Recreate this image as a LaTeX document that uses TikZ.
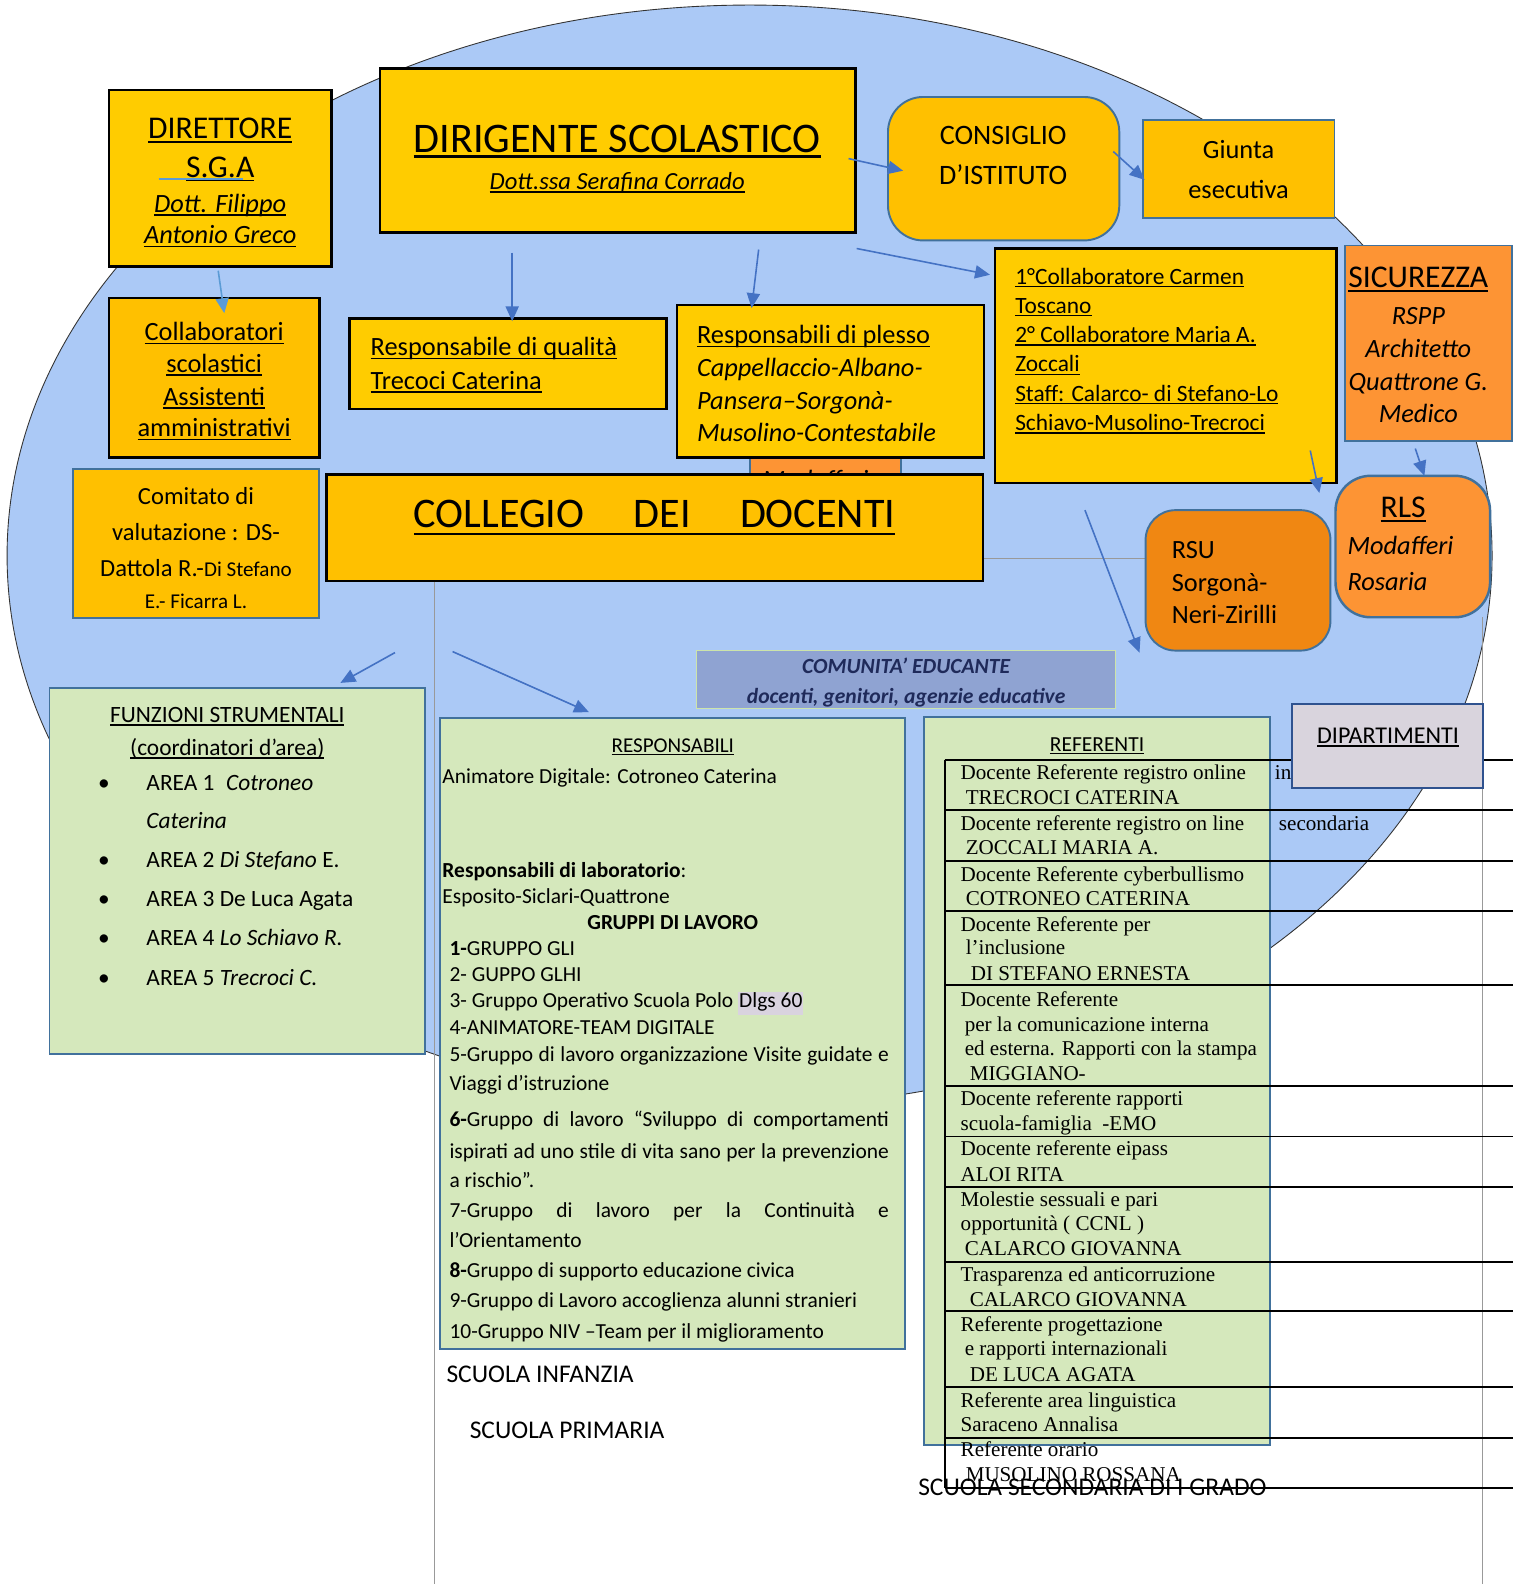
\documentclass[tikz,border=0pt]{standalone}
\usepackage{fontspec}
\setmainfont{Carlito}
\newfontfamily\tnr{Liberation Serif}
\usetikzlibrary{fit,arrows.meta}
\definecolor{ellblue}{RGB}{171,201,246}
\definecolor{yelA}{RGB}{255,204,0}
\definecolor{yelB}{RGB}{255,192,0}
\definecolor{orA}{RGB}{253,148,52}
\definecolor{orB}{RGB}{240,135,18}
\definecolor{grn}{RGB}{213,232,188}
\definecolor{bgray}{RGB}{65,113,156}
\definecolor{comfill}{RGB}{143,163,210}
\definecolor{comtext}{RGB}{31,42,90}
\definecolor{dipfill}{RGB}{217,212,221}
\definecolor{dipedge}{RGB}{47,82,143}
\definecolor{arrblue}{RGB}{68,114,196}
\definecolor{lblue}{RGB}{91,155,213}
\definecolor{hl}{RGB}{217,211,223}
\newcommand\fsz[1]{\fontsize{#1}{#1}\selectfont}
\newsavebox\ulbox
\newcommand\uln[1]{\sbox\ulbox{#1}\rlap{\rule[-0.13em]{\wd\ulbox}{0.06em}}\usebox\ulbox}
\setlength\fboxsep{0.6pt}
\begin{document}
\begin{tikzpicture}[x=0.0202cm,y=-0.0202cm,
  every node/.style={inner sep=0pt, outer sep=0pt},
  ybox/.style={draw=black, line width=1.5pt, inner sep=0pt},
  gbox/.style={draw=bgray, line width=1.1pt, inner sep=0pt},
  arr/.style={draw=arrblue, line width=0.9pt, -{Triangle[length=8.5pt,width=7.5pt]}},
  tline/.style={draw=black, line width=1.1pt},
  thinl/.style={draw=black!40, line width=0.5pt},
  sA/.style={yshift=-4.8pt},
  sB/.style={yshift=-3.7pt},
  sC/.style={yshift=-3.2pt},
  sD/.style={yshift=-3pt},
  sE/.style={yshift=-2.6pt},
  sF/.style={yshift=-2.3pt},
  sG/.style={yshift=-2pt},
  reft/.style={anchor=mid west, font=\tnr\fsz{12}, yshift=-1.7pt},
  rtx/.style={anchor=mid west, font=\fsz{12.2}, sG},
  ftx/.style={anchor=mid west, font=\fsz{13.3}, sF}
]
\fill[white] (0,0) rectangle (1498,1568);
\useasboundingbox (0,0) rectangle (1498,1568);

% big ellipse
\draw[fill=ellblue, draw=black!80, line width=0.5pt] (742,550) ellipse [x radius=735, y radius=545];

% thin grey lines
\draw[thinl] (430,575) -- (430,1568);
\draw[thinl] (1467,611) -- (1467,1568);
\draw[thinl] (973,553) -- (1135,553);

% DIRIGENTE
\node[ybox, fill=yelA, fit={(376,68) (847,230)}] (dir) {};
\node[anchor=mid, sA] (dirT1) at (611,138) {\fsz{24}\uln{DIRIGENTE SCOLASTICO}};
\node[anchor=mid, sE] (dirT2) at (611,179) {\fsz{14}\itshape\uln{Dott.ssa Serafina Corrado}};

% DIRETTORE
\node[ybox, fill=yelA, fit={(108,89) (328,264)}] (dsga) {};
\node[anchor=mid, sB] (dsT1) at (218,127) {\fsz{18}\uln{DIRETTORE}};
\node[anchor=mid, sB] (dsT2) at (218,165) {\fsz{18}\uln{S.G.A}};
\draw[lblue, line width=0.8pt] (157,177) -- (241,177);
\node[anchor=mid, sD] (dsT3) at (218,201) {\fsz{15}\itshape\uln{Dott. Filippo}};
\node[anchor=mid, sD] (dsT4) at (218,232) {\fsz{15}\itshape\uln{Antonio Greco}};

% CONSIGLIO
\node[gbox, fill=yelB, rounded corners=20pt, fit={(879,96) (1108,238)}] (cons) {};
\node[anchor=mid, sC] (consT1) at (993,133) {\fsz{16}CONSIGLIO};
\node[anchor=mid, sC] (consT2) at (993,173) {\fsz{16}D’ISTITUTO};

% Giunta
\node[gbox, fill=yelB, fit={(1131,119) (1321,216)}] (giu) {};
\node[anchor=mid, sD] (giuT1) at (1226,148) {\fsz{15}Giunta};
\node[anchor=mid, sD] (giuT2) at (1226,187) {\fsz{15}esecutiva};

% Collaboratori DS
\node[ybox, fill=yelA, fit={(985,246) (1323,478)}] (coll) {};
\node[anchor=mid west, sF] (collT1) at (1005,273) {\fsz{13.3}\uln{1°Collaboratore Carmen}};
\node[anchor=mid west, sF] (collT2) at (1005,302) {\fsz{13.3}\uln{Toscano}};
\node[anchor=mid west, sF] (collT3) at (1005,331) {\fsz{13.3}\uln{2° Collaboratore Maria A.}};
\node[anchor=mid west, sF] (collT4) at (1005,360) {\fsz{13.3}\uln{Zoccali}};
\node[anchor=mid west, sF] (collT5) at (1005,389) {\fsz{13.3}\uln{Staff: Calarco- di Stefano-Lo}};
\node[anchor=mid west, sF] (collT6) at (1005,418) {\fsz{13.3}\uln{Schiavo-Musolino-Trecroci}};

% SICUREZZA
\node[gbox, fill=orA, fit={(1331,243) (1497,437)}] (sic) {};
\node[anchor=mid, sB] (sicT1) at (1404,274) {\fsz{18}\uln{SICUREZZA}};
\node[anchor=mid, sD] (sicT2) at (1404,312) {\fsz{15}\itshape RSPP};
\node[anchor=mid, sD] (sicT3) at (1404,345) {\fsz{15}\itshape Architetto};
\node[anchor=mid, sD] (sicT4) at (1404,377) {\fsz{15}\itshape Quattrone G.};
\node[anchor=mid, sD] (sicT5) at (1404,409) {\fsz{15}\itshape Medico};

% Collaboratori scolastici
\node[ybox, fill=yelB, fit={(108,295) (316,453)}] (cs) {};
\node[anchor=mid, sD] (csT1) at (212,328) {\fsz{15}\uln{Collaboratori}};
\node[anchor=mid, sD] (csT2) at (212,359) {\fsz{15}\uln{scolastici}};
\node[anchor=mid, sD] (csT3) at (212,392) {\fsz{15}\uln{Assistenti}};
\node[anchor=mid, sD] (csT4) at (212,423) {\fsz{15}\uln{amministrativi}};

% Responsabile di qualita
\node[ybox, fill=yelA, fit={(346,315) (660,405)}] (rq) {};
\node[anchor=mid west, sD] (rqT1) at (367,343) {\fsz{15}\uln{Responsabile di qualità}};
\node[anchor=mid west, sD] (rqT2) at (367,376) {\fsz{15}\uln{Trecoci Caterina}};

% hidden orange box
\node[gbox, fill=orA, fit={(742,440) (892,520)}] (hid) {};
\node[anchor=mid west, sD] (hidT) at (755,474) {\fsz{15}\itshape Modafferi};

% Responsabili di plesso
\node[ybox, fill=yelA, fit={(670,302) (974,453)}] (rp) {};
\node[anchor=mid west, sD] (rpT1) at (690,331) {\fsz{15}\uln{Responsabili di plesso}};
\node[anchor=mid west, sD] (rpT2) at (690,363) {\fsz{15}\itshape Cappellaccio-Albano-};
\node[anchor=mid west, sD] (rpT3) at (690,396) {\fsz{15}\itshape Pansera–Sorgonà-};
\node[anchor=mid west, sD] (rpT4) at (690,428) {\fsz{15}\itshape Musolino-Contestabile};

% COLLEGIO
\node[ybox, fill=yelB, fit={(323,470) (973,575)}] (cdd) {};
\node[anchor=mid, sA] (cddT) at (648,510) {\fsz{24}COLLEGIO\hspace{28pt}DEI\hspace{28pt}DOCENTI};
\draw[line width=1.3pt] ([yshift=-3.6pt]cddT.base west) -- ([yshift=-3.6pt]cddT.base east);

% Comitato
\node[gbox, fill=yelB, fit={(72,464) (316,612)}] (cv) {};
\node[anchor=mid, sE] (cvT1) at (194,491) {\fsz{14}Comitato di};
\node[anchor=mid, sE] (cvT2) at (194,526) {\fsz{14}valutazione : DS-};
\node[anchor=mid, sE] (cvT3) at (194,562) {\fsz{14}Dattola R.-{\fsz{12}Di Stefano}};
\node[anchor=mid, sG] (cvT4) at (194,595) {\fsz{12}E.- Ficarra L.};

% RSU
\node[gbox, fill=orB, rounded corners=17pt, fit={(1134,505) (1317,644)}] (rsu) {};
\node[anchor=mid west, sD] (rsuT1) at (1160,543) {\fsz{15}RSU};
\node[anchor=mid west, sD] (rsuT2) at (1160,576) {\fsz{15}Sorgonà-};
\node[anchor=mid west, sD] (rsuT3) at (1160,608) {\fsz{15}Neri-Zirilli};

% RLS
\node[draw=bgray, line width=1.4pt, fill=orA, rounded corners=20pt, fit={(1322,471) (1475,611)}] (rls) {};
\node[anchor=mid, sB] (rlsT1) at (1389,502) {\fsz{18}\uln{RLS}};
\node[anchor=mid west, sD] (rlsT2) at (1334,540) {\fsz{15}\itshape Modafferi};
\node[anchor=mid west, sD] (rlsT3) at (1334,575) {\fsz{15}\itshape Rosaria};

% Comunita educante
\node[draw={rgb,255:red,205;green,228;blue,170}, line width=0.6pt, fill=comfill, fit={(689,644) (1104,701)}] (com) {};
\node[anchor=mid, text=comtext, sG] (comT1) at (897,659) {\fsz{12.3}\bfseries\itshape COMUNITA' EDUCANTE};
\node[anchor=mid, text=comtext, sG] (comT2) at (897,689) {\fsz{12.3}\bfseries\itshape docenti, genitori, agenzie educative};

% Funzioni strumentali
\node[gbox, fill=grn, fit={(49,681) (421,1043)}] (fs) {};
\node[anchor=mid, sF] (fsT1) at (225,707) {\fsz{13.3}\uln{FUNZIONI STRUMENTALI}};
\node[anchor=mid, sF] (fsT2) at (225,740) {\fsz{13.3}\uln{(coordinatori d’area)}};
\foreach \yy/\nn in {774/1,851/2,889/3,928/4,967/5}{
  \node[anchor=mid, sF] (fsb\nn) at (103,\yy) {\fsz{13.3}•};
}
\node[ftx] (fsA1) at (145,774) {AREA 1\enspace\textit{Cotroneo}};
\node[ftx] (fsA1b) at (145,812) {\textit{Caterina}};
\node[ftx] (fsA2) at (145,851) {AREA 2 \textit{Di Stefano} E.};
\node[ftx] (fsA3) at (145,889) {AREA 3 De Luca Agata};
\node[ftx] (fsA4) at (145,928) {AREA 4 \textit{Lo Schiavo R.}};
\node[ftx] (fsA5) at (145,967) {AREA 5 \textit{Trecroci C.}};

% Responsabili
\node[gbox, fill=grn, fit={(436,711) (896,1335)}] (resp) {};
\node[anchor=mid, sG] (rsT0) at (666,737) {\fsz{12}\uln{RESPONSABILI}};
\node[rtx] (rsT1) at (438,768) {Animatore Digitale: Cotroneo Caterina};
\node[rtx] (rsT2) at (438,861) {\textbf{Responsabili di laboratorio}:};
\node[rtx] (rsT3) at (438,887) {Esposito-Siclari-Quattrone};
\node[anchor=mid, font=\fsz{12.2}, sG] (rsT4) at (666,912) {\textbf{GRUPPI DI LAVORO}};
\node[rtx] (rsT5) at (445,938) {\textbf{1-}GRUPPO GLI};
\node[rtx] (rsT6) at (445,964) {2- GUPPO GLHI};
\node[rtx] (rsT7) at (445,990) {3- Gruppo Operativo Scuola Polo \colorbox{hl}{\strut Dlgs 60}};
\node[rtx] (rsT8) at (445,1016) {4-ANIMATORE-TEAM DIGITALE};
\node[rtx] (rsT9) at (445,1043) {\makebox[8.787cm][s]{5-Gruppo di lavoro organizzazione Visite guidate e}};
\node[rtx] (rsT10) at (445,1072) {Viaggi d’istruzione};
\node[rtx] (rsT11) at (445,1107) {\makebox[8.787cm][s]{\textbf{6-}Gruppo di lavoro “Sviluppo di comportamenti}};
\node[rtx] (rsT12) at (445,1139) {\makebox[8.787cm][s]{ispirati ad uno stile di vita sano per la prevenzione}};
\node[rtx] (rsT13) at (445,1168) {a rischio”.};
\node[rtx] (rsT14) at (445,1198) {\makebox[8.787cm][s]{7-Gruppo di lavoro per la Continuità e}};
\node[rtx] (rsT15) at (445,1227) {l’Orientamento};
\node[rtx] (rsT16) at (445,1257) {\textbf{8-}Gruppo di supporto educazione civica};
\node[rtx] (rsT17) at (445,1287) {9-Gruppo di Lavoro accoglienza alunni stranieri};
\node[rtx] (rsT18) at (445,1317) {10-Gruppo NIV –Team per il miglioramento};

% Referenti
\node[gbox, fill=grn, fit={(915,710) (1257,1430)}] (ref) {};
\node[anchor=mid, sG] (refT) at (1086,736) {\fsz{12.2}\uln{REFERENTI}};
\foreach \yy in {752,802,852,902,975,1075,1125,1175,1249,1298,1373,1423,1473}{
  \draw[tline] (935,\yy) -- (1498,\yy);
}
\draw[tline] (935,752) -- (935,1473);
\node[reft] (rf1a) at (951,765) {Docente Referente registro online};
\node[reft] (rf1b) at (956,789) {TRECROCI CATERINA};
\node[reft] (rf2a) at (951,815) {Docente referente registro on line};
\node[reft] (rf2b) at (956,839) {ZOCCALI MARIA A.};
\node[reft] (rf3a) at (951,865) {Docente Referente cyberbullismo};
\node[reft] (rf3b) at (956,889) {COTRONEO CATERINA};
\node[reft] (rf4a) at (951,915) {Docente Referente per};
\node[reft] (rf4b) at (956,938) {l’inclusione};
\node[reft] (rf4c) at (961,963) {DI STEFANO ERNESTA};
\node[reft] (rf5a) at (951,989) {Docente Referente};
\node[reft] (rf5b) at (955,1014) {per la comunicazione interna};
\node[reft] (rf5c) at (955,1038) {ed esterna. Rapporti con la stampa};
\node[reft] (rf5d) at (960,1062) {MIGGIANO-};
\node[reft] (rf6a) at (951,1087) {Docente referente rapporti};
\node[reft] (rf6b) at (951,1112) {scuola-famiglia\ \ -EMO};
\node[reft] (rf7a) at (951,1137) {Docente referente eipass};
\node[reft] (rf7b) at (951,1162) {ALOI RITA};
\node[reft] (rf8a) at (951,1187) {Molestie sessuali e pari};
\node[reft] (rf8b) at (951,1211) {opportunità ( CCNL )};
\node[reft] (rf8c) at (955,1236) {CALARCO GIOVANNA};
\node[reft] (rf9a) at (951,1261) {Trasparenza ed anticorruzione};
\node[reft] (rf9b) at (960,1286) {CALARCO GIOVANNA};
\node[reft] (rf10a) at (951,1311) {Referente progettazione};
\node[reft] (rf10b) at (955,1335) {e rapporti internazionali};
\node[reft] (rf10c) at (960,1360) {DE LUCA AGATA};
\node[reft] (rf11a) at (951,1386) {Referente area linguistica};
\node[reft] (rf11b) at (951,1410) {Saraceno Annalisa};
\node[reft] (rf12a) at (951,1435) {Referente orario};
\node[reft] (rf12b) at (956,1459) {MUSOLINO ROSSANA};
\node[reft] (rfc1) at (1262,765) {in};
\node[reft] (rfc2) at (1266,815) {secondaria};

% Dipartimenti
\node[draw=dipedge, line width=1.2pt, fill=dipfill, fit={(1279,697) (1468,780)}] (dip) {};
\node[anchor=mid, sF] (dipT) at (1374,728) {\fsz{13.7}\uln{DIPARTIMENTI}};

% scuola labels
\node[anchor=mid west, sE] (sc1) at (442,1360) {\fsz{14.5}SCUOLA INFANZIA};
\node[anchor=mid west, sE] (sc2) at (465,1415) {\fsz{14.5}SCUOLA PRIMARIA};
\node[anchor=mid west, sE] (sc3) at (909,1472) {\fsz{14.5}SCUOLA SECONDARIA DI I GRADO};

% arrows
\coordinate (a1s) at (216,268); \coordinate (a1e) at (222,310);
\draw[arr, draw=lblue] (a1s) -- (a1e);
\foreach \n/\sx/\sy/\ex/\ey in {2/507/250/507/318, 3/751/247/744/305, 4/840/157/894/169,
  5/1102/150/1133/178, 6/848/246/980/272, 7/1297/446/1306/488, 8/1401/444/1410/471,
  9/1074/505/1128/646, 10/391/646/337/676, 11/448/645/583/705}{
  \coordinate (a\n s) at (\sx,\sy);
  \coordinate (a\n e) at (\ex,\ey);
  \draw[arr] (a\n s) -- (a\n e);
}
\end{tikzpicture}
\end{document}
